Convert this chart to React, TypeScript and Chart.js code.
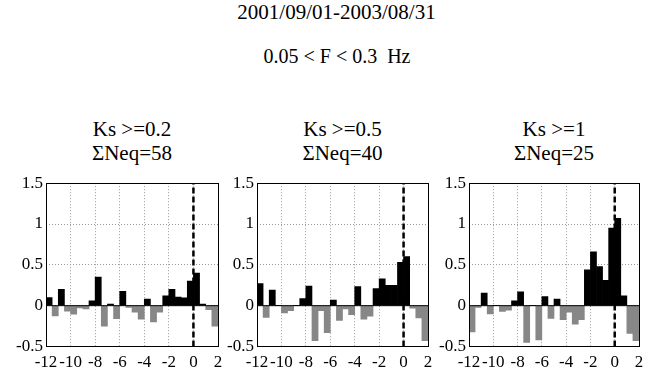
import React, { useEffect, useRef } from 'react';
import { Chart, registerables } from 'chart.js';

Chart.register(...registerables);

const FONT = "'Liberation Serif', serif";
Chart.defaults.font.family = FONT;

// Bin centres (hours relative to event), bin width 0.5
const binCenters = [
  -11.75, -11.25, -10.75, -10.25, -9.75, -9.25, -8.75, -8.25, -7.75, -7.25,
  -6.75, -6.25, -5.75, -5.25, -4.75, -4.25, -3.75, -3.25, -2.75, -2.25,
  -1.75, -1.25, -0.75, -0.25, 0.25, 0.75, 1.25, 1.75,
];

const ks02Values = [
  0.10, -0.125, 0.20, -0.066, -0.105, -0.027, -0.04, 0.06, 0.35, -0.25,
  0.02, -0.16, 0.175, -0.02, -0.08, -0.165, 0.08, -0.2, -0.08, 0.12,
  0.2, 0.105, 0.095, 0.3, 0.4, 0.02, -0.05, -0.25,
];

const ks05Values = [
  0.27, -0.145, 0.19, 0, -0.09, -0.06, 0, 0.086, 0.24, -0.43,
  -0.06, -0.33, 0.07, -0.18, -0.04, -0.11, 0.235, -0.165, -0.13, 0.21,
  0.33, 0.25, 0.25, 0.53, 0.6, -0.03, -0.15, -0.43,
];

const ks1Values = [
  -0.32, -0.02, 0.155, -0.1, 0, -0.07, -0.055, 0.06, 0.17, -0.45,
  0, -0.42, 0.11, -0.155, 0.08, -0.17, -0.08, -0.225, -0.17, 0.44,
  0.66, 0.48, 0.31, 0.95, 1.07, 0.12, -0.34, -0.43,
];

const ksTitles = ['Ks >=0.2', 'Ks >=0.5', 'Ks >=1'];
const neqTitles = ['ΣNeq=58', 'ΣNeq=40', 'ΣNeq=25'];
const mainTitle = '2001/09/01-2003/08/31';
const bandTitle = '0.05 < F < 0.3  Hz';

const xMin = -12;
const xMax = 2;
const xStep = 2;
const yMin = -0.5;
const yMax = 1.5;
const yStep = 0.5;
const eventX = 0;

const POS_COLOR = '#000000';
const NEG_COLOR = '#878787';

const Y_AXIS_W = 46;
const RIGHT_PAD = 12;
const CANVAS_H = 206;
const CANVAS_TOP = 170;
const TOP_PAD = 6.5;
const X_AXIS_H = 29.5;

const framePlugin = {
  id: 'frame',
  afterDraw(chart: any) {
    const { ctx, chartArea } = chart;
    ctx.save();
    ctx.strokeStyle = '#000';
    ctx.lineWidth = 1;
    ctx.setLineDash([]);
    ctx.strokeRect(
      Math.round(chartArea.left) + 0.5,
      Math.round(chartArea.top) + 0.5,
      Math.round(chartArea.right - chartArea.left),
      Math.round(chartArea.bottom - chartArea.top)
    );
    ctx.restore();
  },
};

const fmt = (v: any) => String(Number(v));

function Panel({ values, plotLeft, plotWidth }: { values: number[]; plotLeft: number; plotWidth: number }) {
  const ref = useRef<HTMLCanvasElement | null>(null);
  const width = Y_AXIS_W + plotWidth + RIGHT_PAD;

  useEffect(() => {
    if (!ref.current) return;
    const chart = new Chart(ref.current, {
      type: 'bar',
      data: {
        datasets: [
          {
            type: 'line',
            data: [
              { x: eventX, y: yMin },
              { x: eventX, y: yMax },
            ],
            borderColor: '#000',
            borderWidth: 2.5,
            borderDash: [6, 3],
            pointRadius: 0,
            order: 0,
          } as any,
          {
            type: 'line',
            data: [
              { x: xMin, y: 0 },
              { x: xMax, y: 0 },
            ],
            borderColor: '#000',
            borderWidth: 1,
            pointRadius: 0,
            order: 1,
          } as any,
          {
            type: 'bar',
            data: binCenters.map((x, i) => ({ x, y: values[i] })),
            backgroundColor: values.map((v) => (v >= 0 ? POS_COLOR : NEG_COLOR)),
            borderWidth: 0,
            barPercentage: 1,
            categoryPercentage: 1,
            order: 2,
          } as any,
        ],
      },
      options: {
        responsive: false,
        animation: false,
        devicePixelRatio: 1,
        font: { family: FONT },
        layout: { padding: { top: TOP_PAD, right: RIGHT_PAD, left: 0, bottom: 0 } },
        plugins: {
          legend: { display: false },
          tooltip: { enabled: false },
        },
        scales: {
          x: {
            type: 'linear',
            min: xMin,
            max: xMax,
            offset: false,
            grid: { color: '#9a9a9a', lineWidth: 1, drawTicks: false, offset: false },
            border: { display: false, dash: [1, 2] },
            ticks: {
              stepSize: xStep,
              autoSkip: false,
              maxRotation: 0,
              minRotation: 0,
              padding: 6,
              color: '#000',
              font: { family: FONT, size: 17 },
              callback: fmt,
            },
            afterFit: (s: any) => {
              s.height = X_AXIS_H;
            },
          },
          y: {
            type: 'linear',
            min: yMin,
            max: yMax,
            grid: { color: '#9a9a9a', lineWidth: 1, drawTicks: false },
            border: { display: false, dash: [1, 2] },
            ticks: {
              stepSize: yStep,
              padding: 3,
              color: '#000',
              font: { family: FONT, size: 17 },
              callback: fmt,
            },
            afterFit: (s: any) => {
              s.width = Y_AXIS_W;
            },
          },
        },
      } as any,
      plugins: [framePlugin],
    });
    let alive = true;
    if ((document as any).fonts && (document as any).fonts.ready) {
      (document as any).fonts.ready.then(() => {
        if (alive) chart.update();
      });
    }
    return () => {
      alive = false;
      chart.destroy();
    };
  }, [values]);

  return (
    <canvas
      ref={ref}
      width={width}
      height={CANVAS_H}
      style={{ position: 'absolute', left: plotLeft - Y_AXIS_W, top: CANVAS_TOP, width, height: CANVAS_H }}
    />
  );
}

const panels = [
  { values: ks02Values, left: 46, width: 172 },
  { values: ks05Values, left: 257, width: 171 },
  { values: ks1Values, left: 469, width: 170 },
];

export default function App() {
  return (
    <div
      style={{
        position: 'absolute',
        left: 0,
        top: 0,
        width: 657,
        height: 376,
        background: '#fff',
        fontFamily: FONT,
        color: '#000',
        overflow: 'hidden',
      }}
    >
      <div
        style={{
          position: 'absolute',
          left: 336.5,
          top: 2,
          transform: 'translateX(-50%)',
          fontSize: 21,
          lineHeight: '21px',
          whiteSpace: 'pre',
        }}
      >
        {mainTitle}
      </div>
      <div
        style={{
          position: 'absolute',
          left: 337,
          top: 46,
          transform: 'translateX(-50%)',
          fontSize: 20,
          lineHeight: '20px',
          whiteSpace: 'pre',
        }}
      >
        {bandTitle}
      </div>
      {panels.map((p, i) => (
        <div
          key={'t' + i}
          style={{
            position: 'absolute',
            left: p.left + p.width / 2,
            top: 117,
            transform: 'translateX(-50%)',
            fontSize: 21,
            lineHeight: '24px',
            whiteSpace: 'pre',
            textAlign: 'center',
          }}
        >
          {ksTitles[i]}
          {'\n'}
          {neqTitles[i]}
        </div>
      ))}
      {panels.map((p, i) => (
        <Panel key={'p' + i} values={p.values} plotLeft={p.left} plotWidth={p.width} />
      ))}
    </div>
  );
}
